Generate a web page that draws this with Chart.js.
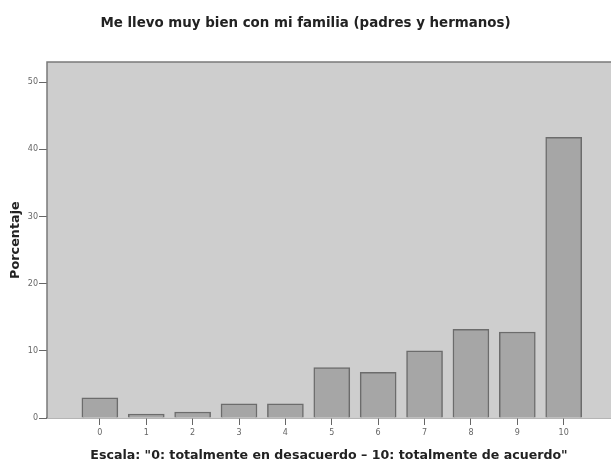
<!DOCTYPE html>
<html>
<head>
<meta charset="utf-8">
<script src="https://cdn.jsdelivr.net/npm/chart.js@4/dist/chart.umd.min.js"></script>
<style>
  html, body { margin: 0; padding: 0; background: #ffffff; }
  #wrap { width: 611px; height: 463px; }
</style>
</head>
<body>
<div id="wrap"><canvas id="barChart" width="611" height="463"></canvas></div>
<script>
// values
const chartTitle = 'Me llevo muy bien con mi familia (padres y hermanos)';
const xTitle = 'Escala: "0: totalmente en desacuerdo \u2013 10: totalmente de acuerdo"';
const yTitle = 'Porcentaje';
const categories = [0, 1, 2, 3, 4, 5, 6, 7, 8, 9, 10];
const percentages = [3.0, 0.6, 0.9, 2.1, 2.1, 7.5, 6.8, 10.0, 13.2, 12.8, 41.8];
const yTicks = [0, 10, 20, 30, 40, 50];

document.addEventListener('DOMContentLoaded', function() {
    // grey plot box behind the bars, with a dark frame
    const plotBox = {
        id: 'plotBox',
        beforeDatasetsDraw(chart) {
            const { ctx, chartArea } = chart;
            ctx.save();
            ctx.fillStyle = '#cecece';
            ctx.fillRect(chartArea.left, chartArea.top, chartArea.right - chartArea.left, chartArea.bottom - chartArea.top);
            ctx.strokeStyle = '#7a7a7a';
            ctx.lineWidth = 1.5;
            ctx.beginPath();
            ctx.moveTo(chartArea.left, chartArea.bottom);
            ctx.lineTo(chartArea.left, chartArea.top);
            ctx.lineTo(chartArea.right + 2, chartArea.top);
            ctx.stroke();
            ctx.restore();
        }
    };

    const ctx = document.getElementById('barChart').getContext('2d');
    new Chart(ctx, {
        type: 'bar',
        data: {
            datasets: [{
                data: categories.map((c, i) => ({ x: c, y: percentages[i] })),
                backgroundColor: '#a6a6a6',
                borderColor: '#6c6c6c',
                borderWidth: 1.5,
                barThickness: 36
            }]
        },
        options: {
            responsive: false,
            animation: false,
            layout: { padding: 0 },
            plugins: {
                legend: { display: false },
                tooltip: { enabled: false },
                title: {
                    display: true,
                    text: chartTitle,
                    color: '#222',
                    font: { family: 'DejaVu Sans', size: 13.4, weight: 'bold', lineHeight: 1.2 },
                    padding: { top: 15, bottom: 31 }
                }
            },
            scales: {
                x: {
                    type: 'linear',
                    offset: false,
                    min: -1.14,
                    max: 11.02,
                    afterBuildTicks: scale => { scale.ticks = categories.map(v => ({ value: v })); },
                    afterFit: scale => { scale.height = 45; },
                    grid: { offset: false, drawOnChartArea: false, drawTicks: true, tickLength: 7, tickColor: '#666', lineWidth: 1 },
                    border: { display: true, color: '#6c6c6c', width: 1.5 },
                    ticks: { color: '#666', font: { family: 'DejaVu Sans', size: 8 }, padding: 3, autoSkip: false, maxRotation: 0 },
                    title: {
                        display: true,
                        text: xTitle,
                        color: '#222',
                        font: { family: 'DejaVu Sans', size: 12.6, weight: 'bold', lineHeight: 1.2 },
                        padding: { top: 3.5, bottom: 0 }
                    }
                },
                y: {
                    min: 0,
                    max: 53,
                    afterBuildTicks: scale => { scale.ticks = yTicks.map(v => ({ value: v })); },
                    afterFit: scale => { scale.width = 47; },
                    grid: { drawOnChartArea: false, drawTicks: true, tickLength: 8, tickColor: '#666', lineWidth: 1 },
                    border: { display: false },
                    ticks: { color: '#666', font: { family: 'DejaVu Sans', size: 8 }, padding: 1 },
                    title: {
                        display: true,
                        text: yTitle,
                        color: '#222',
                        font: { family: 'DejaVu Sans', size: 12.8, weight: 'bold', lineHeight: 1.2 },
                        padding: { top: 8, bottom: 0 }
                    }
                }
            }
        },
        plugins: [plotBox]
    });
});
</script>
</body>
</html>
